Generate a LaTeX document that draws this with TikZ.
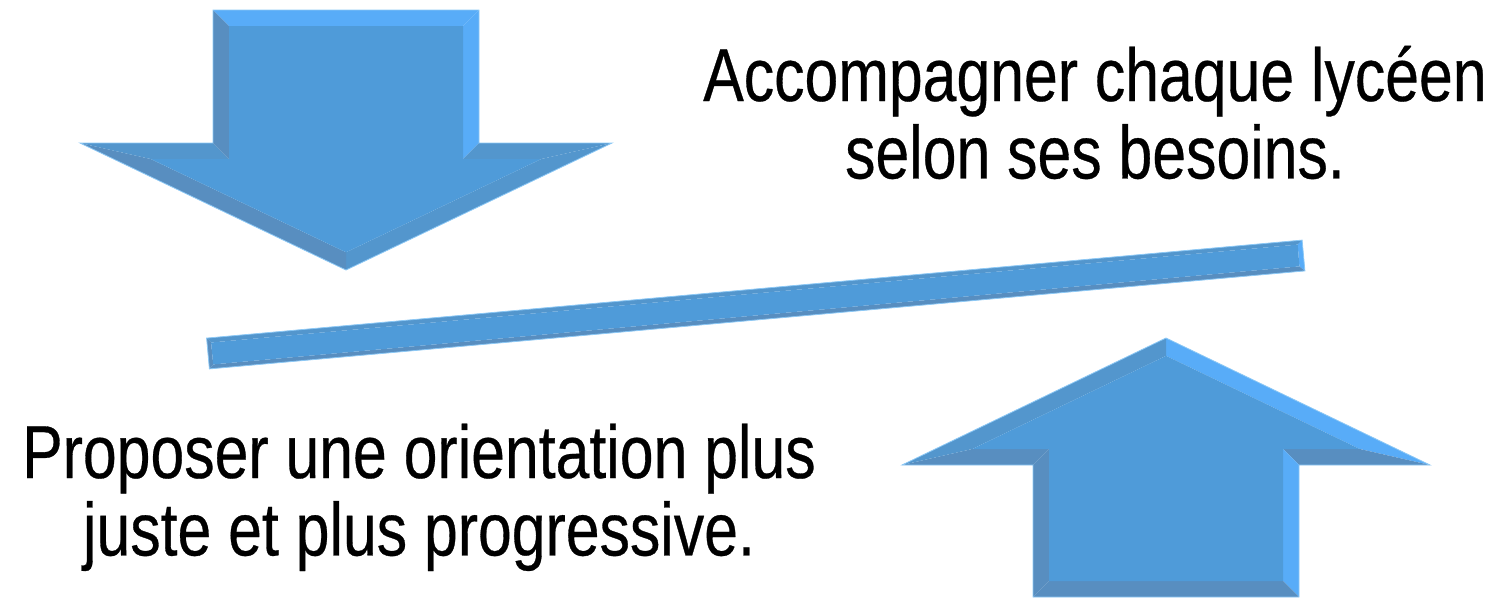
\documentclass[tikz,border=0pt]{standalone}
\usepackage{fontspec}
\newfontfamily\lblfont[FakeStretch=0.81,FakeBold=0.4]{Liberation Sans}
\definecolor{basecol}{RGB}{79,155,217}
\definecolor{litecol}{RGB}{88,172,248}
\definecolor{midcol}{RGB}{83,150,205}
\definecolor{darkcol}{RGB}{88,142,192}
\definecolor{rimcol}{RGB}{140,200,245}
\tikzset{
  facetlite/.style={fill=litecol},
  facetmid/.style={fill=midcol},
  facetdark/.style={fill=darkcol},
  rim/.style={draw=rimcol, line width=0.8pt, line join=miter},
  label/.style={inner sep=0pt, anchor=base, font=\lblfont\fontsize{75}{77}\selectfont}
}
\begin{document}
\begin{tikzpicture}[x=1pt,y=-1pt]
\useasboundingbox (0,0) rectangle (1499,598);
% ---------- down arrow ----------
\coordinate (dA) at (213,10);  \coordinate (dB) at (479,10);
\coordinate (dC) at (479,143); \coordinate (dD) at (612,143);
\coordinate (dE) at (346,270); \coordinate (dF) at (80,143);
\coordinate (dG) at (213,143);
\coordinate (dAi) at (229,26);  \coordinate (dBi) at (463,26);
\coordinate (dCi) at (463,159); \coordinate (dDi) at (541.3,159);
\coordinate (dEi) at (346,252.3); \coordinate (dFi) at (150.7,159);
\coordinate (dGi) at (229,159);
\fill[facetlite] (dA) -- (dB) -- (dBi) -- (dAi) -- cycle;
\fill[facetlite] (dB) -- (dC) -- (dCi) -- (dBi) -- cycle;
\fill[facetmid]  (dC) -- (dD) -- (dDi) -- (dCi) -- cycle;
\fill[facetmid]  (dD) -- (dE) -- (dEi) -- (dDi) -- cycle;
\fill[facetdark] (dE) -- (dF) -- (dFi) -- (dEi) -- cycle;
\fill[facetmid]  (dF) -- (dG) -- (dGi) -- (dFi) -- cycle;
\fill[facetdark] (dG) -- (dA) -- (dAi) -- (dGi) -- cycle;
\fill[basecol] (dAi) -- (dBi) -- (dCi) -- (dDi) -- (dEi) -- (dFi) -- (dGi) -- cycle;
\draw[rim] (dA) -- (dB) -- (dC) -- (dD) -- (dE) -- (dF) -- (dG) -- cycle;
% ---------- up arrow ----------
\coordinate (uT) at (1166,338);  \coordinate (uR) at (1430,465);
\coordinate (uSR) at (1299,465); \coordinate (uBR) at (1299,597);
\coordinate (uBL) at (1033,597); \coordinate (uSL) at (1033,465);
\coordinate (uL) at (902,465);
\coordinate (uTi) at (1166,355.8);  \coordinate (uRi) at (1359.8,449);
\coordinate (uSRi) at (1283,449);   \coordinate (uBRi) at (1283,581);
\coordinate (uBLi) at (1049,581);   \coordinate (uSLi) at (1049,449);
\coordinate (uLi) at (972.2,449);
\fill[facetlite] (uT) -- (uR) -- (uRi) -- (uTi) -- cycle;
\fill[facetdark] (uR) -- (uSR) -- (uSRi) -- (uRi) -- cycle;
\fill[facetlite] (uSR) -- (uBR) -- (uBRi) -- (uSRi) -- cycle;
\fill[facetdark] (uBR) -- (uBL) -- (uBLi) -- (uBRi) -- cycle;
\fill[facetdark] (uBL) -- (uSL) -- (uSLi) -- (uBLi) -- cycle;
\fill[facetdark] (uSL) -- (uL) -- (uLi) -- (uSLi) -- cycle;
\fill[facetmid]  (uL) -- (uT) -- (uTi) -- (uLi) -- cycle;
\fill[basecol] (uTi) -- (uRi) -- (uSRi) -- (uBRi) -- (uBLi) -- (uSLi) -- (uLi) -- cycle;
\draw[rim] (uT) -- (uR) -- (uSR) -- (uBR) -- (uBL) -- (uSL) -- (uL) -- cycle;
% ---------- bar ----------
\coordinate (bTL) at (206.6,338.1);  \coordinate (bBL) at (209.4,368.9);
\coordinate (bTR) at (1302.1,240.1); \coordinate (bBR) at (1304.9,270.9);
\coordinate (bTLi) at (211.1,342.5);  \coordinate (bBLi) at (213.2,364.4);
\coordinate (bTRi) at (1297.7,244.6); \coordinate (bBRi) at (1299.4,266.4);
\fill[facetmid]  (bTL) -- (bTR) -- (bTRi) -- (bTLi) -- cycle;
\fill[facetlite] (bTR) -- (bBR) -- (bBRi) -- (bTRi) -- cycle;
\fill[facetdark] (bBR) -- (bBL) -- (bBLi) -- (bBRi) -- cycle;
\fill[facetdark] (bBL) -- (bTL) -- (bTLi) -- (bBLi) -- cycle;
\fill[basecol] (bTLi) -- (bTRi) -- (bBRi) -- (bBLi) -- cycle;
\draw[rim] (bTL) -- (bTR) -- (bBR) -- (bBL) -- cycle;
% ---------- texts ----------
\node[label] (top) at (1095,101) {\begin{tabular}[t]{@{}c@{}}Accompagner chaque lycéen\\selon ses besoins.\end{tabular}};
\node[label] (bottom) at (419,478) {\begin{tabular}[t]{@{}c@{}}Proposer une orientation plus\\juste et plus progressive.\end{tabular}};
\end{tikzpicture}
\end{document}
